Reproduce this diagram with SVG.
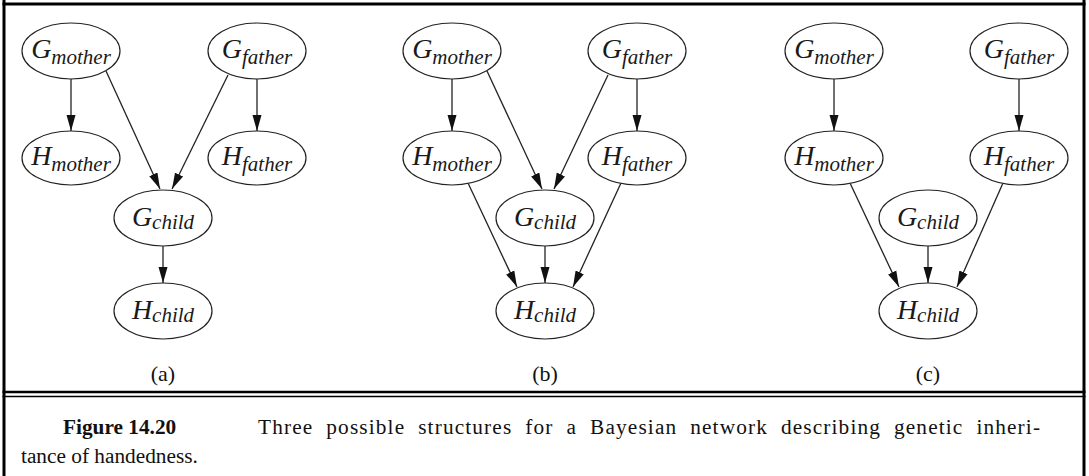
<svg xmlns="http://www.w3.org/2000/svg" width="1089" height="476" viewBox="0 0 1089 476">
<style>
.node ellipse{fill:#fff;stroke:#222;stroke-width:1.2}
.lbl{font-family:"Liberation Serif",serif;font-style:italic;font-size:28px;fill:#1a1a1a;text-anchor:middle}
.sub{font-size:21px}
.edge{stroke:#222;stroke-width:1.3;fill:none;marker-end:url(#arr)}
.cap{font-family:"Liberation Serif",serif;font-size:22px;fill:#111;text-anchor:middle}
.capt{font-family:"Liberation Serif",serif;font-size:21.3px;fill:#111}
.frame{stroke:#000;fill:none}
</style>
<defs>
<marker id="arr" markerUnits="userSpaceOnUse" markerWidth="17" markerHeight="12" viewBox="0 0 17 12" refX="16" refY="6" orient="auto">
<path d="M0,1.5 L16,6 L0,10.5 Z" fill="#111"/>
</marker>
</defs>
<g id="frame">
<line class="frame" x1="4" y1="0" x2="4" y2="476" stroke-width="3"/>
<line class="frame" x1="1084" y1="0" x2="1084" y2="476" stroke-width="3"/>
<line class="frame" x1="2.5" y1="4" x2="1085.5" y2="4" stroke-width="3"/>
<line class="frame" x1="2.5" y1="392" x2="1085.5" y2="392" stroke-width="2.6"/>
<line class="frame" x1="2.5" y1="396.5" x2="1085.5" y2="396.5" stroke-width="1.6"/>
</g>
<g id="connectors">
<!-- (a) -->
<line class="edge" x1="71" y1="79" x2="71" y2="131"/>
<line class="edge" x1="106" y1="71" x2="160" y2="189"/>
<line class="edge" x1="228" y1="75" x2="172" y2="189"/>
<line class="edge" x1="257" y1="79" x2="257" y2="131"/>
<line class="edge" x1="163" y1="246" x2="163" y2="283"/>
<!-- (b) -->
<line class="edge" x1="452" y1="79" x2="452" y2="131"/>
<line class="edge" x1="487" y1="71" x2="542" y2="189"/>
<line class="edge" x1="608" y1="75" x2="554" y2="189"/>
<line class="edge" x1="637" y1="79" x2="637" y2="131"/>
<line class="edge" x1="468" y1="183" x2="517" y2="287"/>
<line class="edge" x1="545" y1="246" x2="545" y2="283"/>
<line class="edge" x1="621" y1="183" x2="573" y2="287"/>
<!-- (c) -->
<line class="edge" x1="834" y1="79" x2="834" y2="131"/>
<line class="edge" x1="1019" y1="79" x2="1019" y2="131"/>
<line class="edge" x1="850" y1="183" x2="899" y2="287"/>
<line class="edge" x1="928" y1="246" x2="928" y2="283"/>
<line class="edge" x1="1003" y1="183" x2="957" y2="287"/>
</g>
<!-- panel (a) -->
<g id="a_Gmother" class="node"><ellipse cx="71" cy="51" rx="49" ry="28"/><text class="lbl" x="71" y="58">G<tspan class="sub" dy="6">mother</tspan></text></g>
<g id="a_Gfather" class="node"><ellipse cx="257" cy="51" rx="49" ry="28"/><text class="lbl" x="257" y="58">G<tspan class="sub" dy="6">father</tspan></text></g>
<g id="a_Hmother" class="node"><ellipse cx="71" cy="158" rx="49" ry="27"/><text class="lbl" x="71" y="165">H<tspan class="sub" dy="6">mother</tspan></text></g>
<g id="a_Hfather" class="node"><ellipse cx="257" cy="158" rx="49" ry="27"/><text class="lbl" x="257" y="165">H<tspan class="sub" dy="6">father</tspan></text></g>
<g id="a_Gchild" class="node"><ellipse cx="163" cy="218" rx="49" ry="28"/><text class="lbl" x="163" y="226">G<tspan class="sub" dy="3">child</tspan></text></g>
<g id="a_Hchild" class="node"><ellipse cx="163" cy="311" rx="49" ry="28"/><text class="lbl" x="163" y="319">H<tspan class="sub" dy="3">child</tspan></text></g>
<text class="cap" x="163" y="381">(a)</text>
<!-- panel (b) -->
<g id="b_Gmother" class="node"><ellipse cx="452" cy="51" rx="49" ry="28"/><text class="lbl" x="452" y="58">G<tspan class="sub" dy="6">mother</tspan></text></g>
<g id="b_Gfather" class="node"><ellipse cx="637" cy="51" rx="49" ry="28"/><text class="lbl" x="637" y="58">G<tspan class="sub" dy="6">father</tspan></text></g>
<g id="b_Hmother" class="node"><ellipse cx="452" cy="158" rx="49" ry="27"/><text class="lbl" x="452" y="165">H<tspan class="sub" dy="6">mother</tspan></text></g>
<g id="b_Hfather" class="node"><ellipse cx="637" cy="158" rx="49" ry="27"/><text class="lbl" x="637" y="165">H<tspan class="sub" dy="6">father</tspan></text></g>
<g id="b_Gchild" class="node"><ellipse cx="545" cy="218" rx="49" ry="28"/><text class="lbl" x="545" y="226">G<tspan class="sub" dy="3">child</tspan></text></g>
<g id="b_Hchild" class="node"><ellipse cx="545" cy="311" rx="49" ry="28"/><text class="lbl" x="545" y="319">H<tspan class="sub" dy="3">child</tspan></text></g>
<text class="cap" x="545" y="381">(b)</text>
<!-- panel (c) -->
<g id="c_Gmother" class="node"><ellipse cx="834" cy="51" rx="49" ry="28"/><text class="lbl" x="834" y="58">G<tspan class="sub" dy="6">mother</tspan></text></g>
<g id="c_Gfather" class="node"><ellipse cx="1019" cy="51" rx="49" ry="28"/><text class="lbl" x="1019" y="58">G<tspan class="sub" dy="6">father</tspan></text></g>
<g id="c_Hmother" class="node"><ellipse cx="834" cy="158" rx="49" ry="27"/><text class="lbl" x="834" y="165">H<tspan class="sub" dy="6">mother</tspan></text></g>
<g id="c_Hfather" class="node"><ellipse cx="1019" cy="158" rx="49" ry="27"/><text class="lbl" x="1019" y="165">H<tspan class="sub" dy="6">father</tspan></text></g>
<g id="c_Gchild" class="node"><ellipse cx="928" cy="218" rx="49" ry="28"/><text class="lbl" x="928" y="226">G<tspan class="sub" dy="3">child</tspan></text></g>
<g id="c_Hchild" class="node"><ellipse cx="928" cy="311" rx="49" ry="28"/><text class="lbl" x="928" y="319">H<tspan class="sub" dy="3">child</tspan></text></g>
<text class="cap" x="928" y="381">(c)</text>
<!-- caption -->
<g id="caption">
<text class="capt" x="63" y="434" font-weight="bold">Figure 14.20</text>
<text class="capt" x="258" y="434" word-spacing="6.5" textLength="782" lengthAdjust="spacing">Three possible structures for a Bayesian network describing genetic inheri-</text>
<text class="capt" x="21" y="463">tance of handedness.</text>
</g>
</svg>
